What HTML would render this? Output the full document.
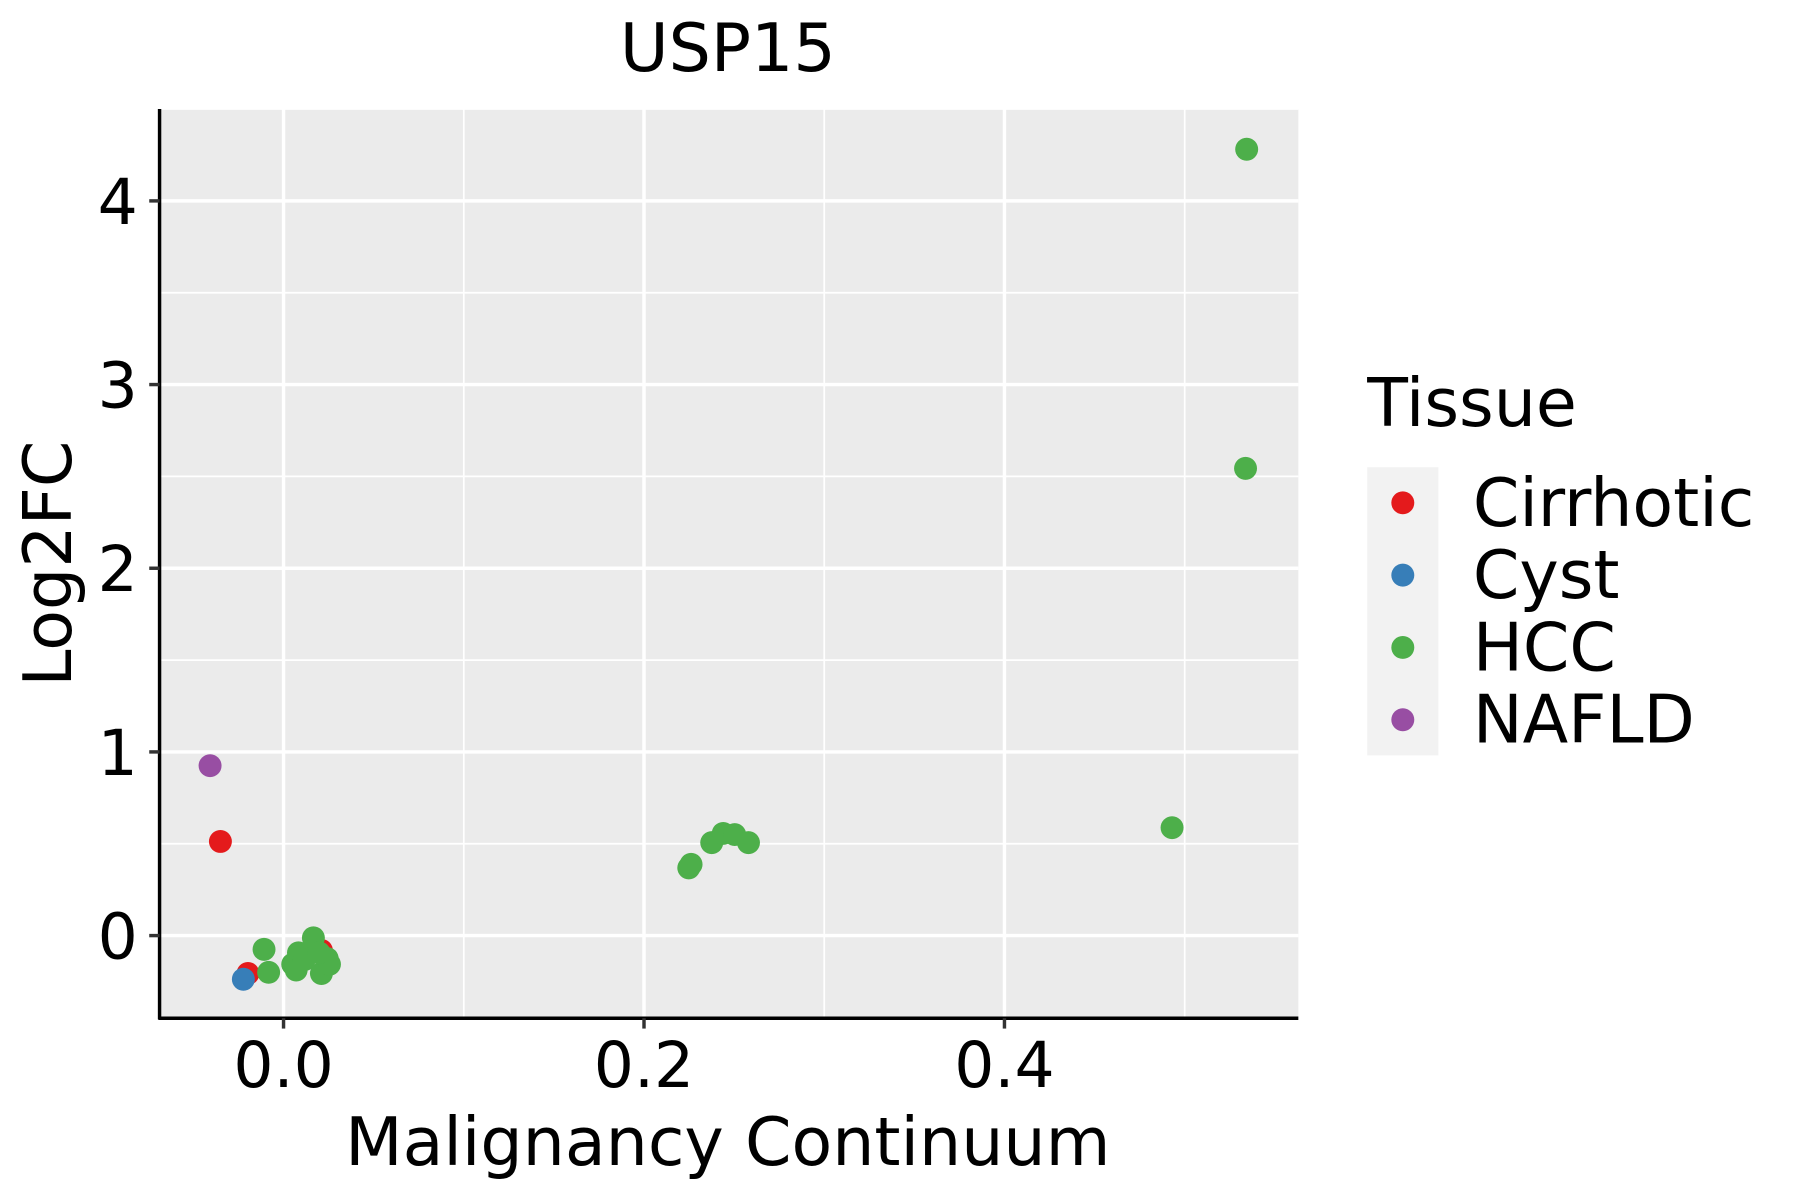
<!DOCTYPE html>
<html><head><meta charset="utf-8"><style>html,body{margin:0;padding:0;background:#fff}svg{display:block}</style></head>
<body>
<svg width="1800" height="1200" viewBox="0 0 1568 1045.33" preserveAspectRatio="none" xmlns="http://www.w3.org/2000/svg" font-family="'DejaVu Sans','Liberation Sans',sans-serif">
<rect width="1568" height="1046" fill="#fff"/>
<rect x="139" y="95" width="992" height="792" fill="#EBEBEB"/>
<g stroke="#fff" stroke-width="1.5">
<line x1="404" y1="95" x2="404" y2="887"/><line x1="718" y1="95" x2="718" y2="887"/><line x1="1032" y1="95" x2="1032" y2="887"/>
<line x1="139" y1="735" x2="1131" y2="735"/><line x1="139" y1="575" x2="1131" y2="575"/><line x1="139" y1="415" x2="1131" y2="415"/><line x1="139" y1="255" x2="1131" y2="255"/><line x1="139" y1="95" x2="1131" y2="95"/>
</g>
<g stroke="#fff" stroke-width="3">
<line x1="247" y1="95" x2="247" y2="887"/><line x1="561" y1="95" x2="561" y2="887"/><line x1="875" y1="95" x2="875" y2="887"/>
<line x1="139" y1="815" x2="1131" y2="815"/><line x1="139" y1="655" x2="1131" y2="655"/><line x1="139" y1="495" x2="1131" y2="495"/><line x1="139" y1="335" x2="1131" y2="335"/><line x1="139" y1="175" x2="1131" y2="175"/>
</g>
<g stroke="#000" stroke-width="3">
<line x1="139" y1="95" x2="139" y2="888"/><line x1="138" y1="887" x2="1131" y2="887"/>
</g>
<g stroke="#333" stroke-width="3">
<line x1="247" y1="887" x2="247" y2="896"/><line x1="561" y1="887" x2="561" y2="896"/><line x1="875" y1="887" x2="875" y2="896"/>
<line x1="130" y1="815" x2="139" y2="815"/><line x1="130" y1="655" x2="139" y2="655"/><line x1="130" y1="495" x2="139" y2="495"/><line x1="130" y1="335" x2="139" y2="335"/><line x1="130" y1="175" x2="139" y2="175"/>
</g>
<g font-size="55" fill="#000">
<text x="247" y="947" text-anchor="middle">0.0</text><text x="561" y="947" text-anchor="middle">0.2</text><text x="875" y="947" text-anchor="middle">0.4</text>
<text x="120" y="835" text-anchor="end">0</text><text x="120" y="675" text-anchor="end">1</text><text x="120" y="515" text-anchor="end">2</text><text x="120" y="355" text-anchor="end">3</text><text x="120" y="195" text-anchor="end">4</text>
</g>
<text x="634" y="62" font-size="58" text-anchor="middle">USP15</text>
<text x="634" y="1015" font-size="58" text-anchor="middle">Malignancy Continuum</text>
<text transform="translate(62,491) rotate(-90)" font-size="58" text-anchor="middle">Log2FC</text>
<g>
<circle cx="192" cy="733" r="10" fill="#E41A1C"/><circle cx="216" cy="848" r="10" fill="#E41A1C"/><circle cx="280" cy="828" r="10" fill="#E41A1C"/>
<circle cx="212" cy="853" r="10" fill="#377EB8"/>
<circle cx="183" cy="667" r="10" fill="#984EA3"/>
<g fill="#4DAF4A">
<circle cx="1086" cy="130" r="10"/><circle cx="1085" cy="408" r="10"/><circle cx="1021" cy="721" r="10"/>
<circle cx="600" cy="756" r="10"/><circle cx="602" cy="753" r="10"/><circle cx="620" cy="734" r="10"/><circle cx="630" cy="726" r="10"/><circle cx="640" cy="727" r="10"/><circle cx="652" cy="734" r="10"/>
<circle cx="230" cy="827" r="10"/><circle cx="234" cy="847" r="10"/><circle cx="255" cy="840" r="10"/><circle cx="260" cy="830" r="10"/><circle cx="258" cy="845" r="10"/><circle cx="273" cy="817" r="10"/><circle cx="265" cy="836" r="10"/><circle cx="280" cy="848" r="10"/><circle cx="285" cy="835" r="10"/><circle cx="287" cy="840" r="10"/><circle cx="278" cy="830" r="10"/>
</g>
</g>
<text x="1191" y="371" font-size="58">Tissue</text>
<rect x="1191" y="407" width="62" height="251" fill="#F2F2F2"/>
<circle cx="1222" cy="438" r="10" fill="#E41A1C"/><circle cx="1222" cy="501" r="10" fill="#377EB8"/><circle cx="1222" cy="564" r="10" fill="#4DAF4A"/><circle cx="1222" cy="627" r="10" fill="#984EA3"/>
<g font-size="58">
<text x="1283" y="458">Cirrhotic</text><text x="1283" y="521">Cyst</text><text x="1283" y="584">HCC</text><text x="1283" y="647">NAFLD</text>
</g>
</svg>
</body></html>
